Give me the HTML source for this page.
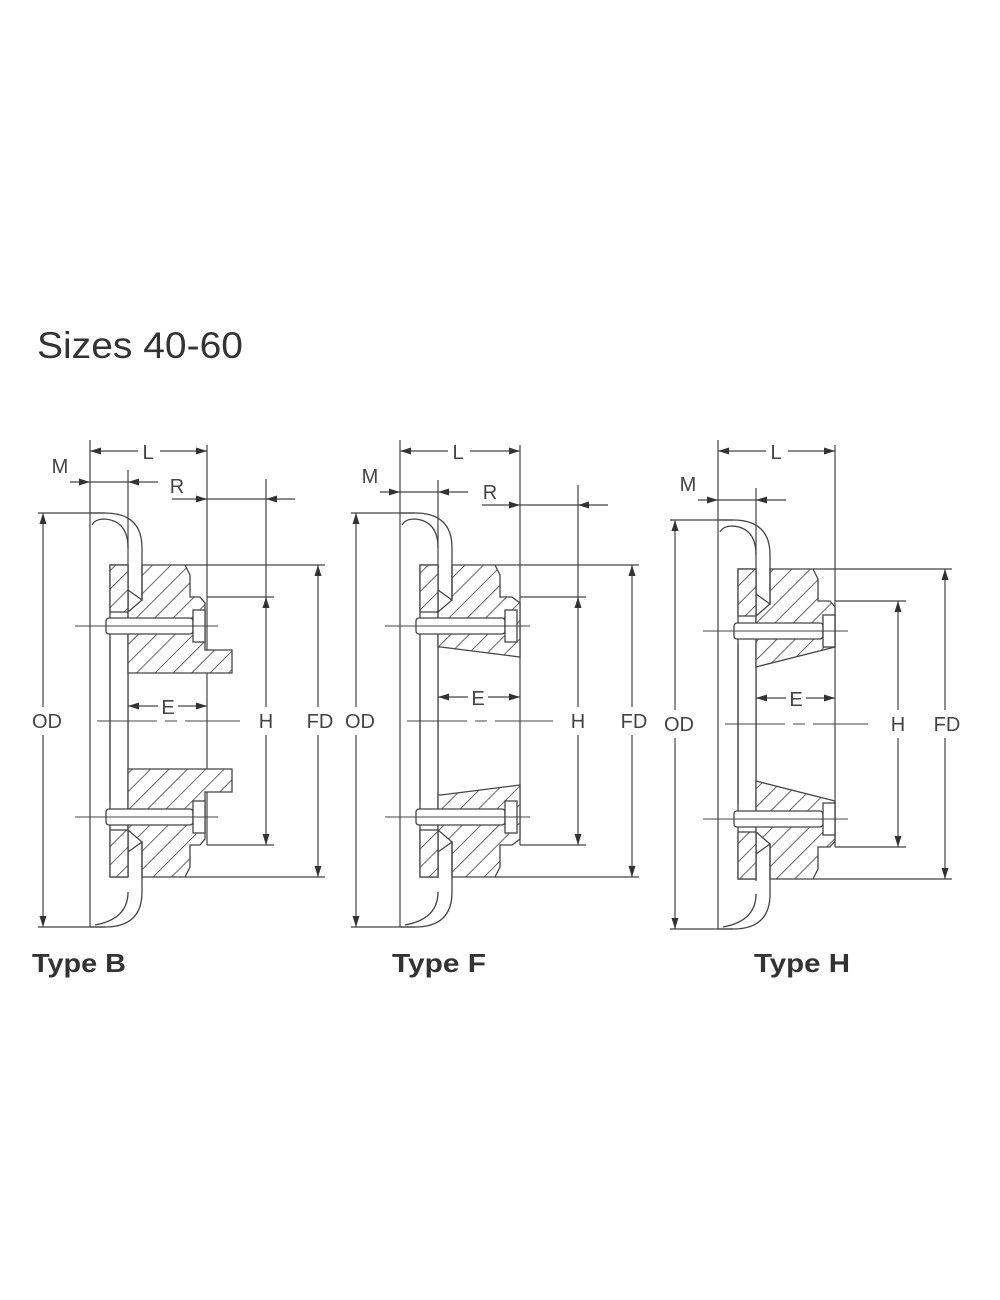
<!DOCTYPE html>
<html><head><meta charset="utf-8">
<style>
html,body{margin:0;padding:0;background:#fff;}
svg{display:block;}
text{font-family:"Liberation Sans",sans-serif;}
</style></head>
<body>
<svg id="s" width="1000" height="1300" viewBox="0 0 1000 1300" xmlns="http://www.w3.org/2000/svg">
<defs>
<pattern id="h" patternUnits="userSpaceOnUse" width="13" height="13" patternTransform="rotate(45)">
<rect width="13" height="13" fill="#fff"/>
<line x1="0" y1="0" x2="0" y2="13" stroke="#333" stroke-width="1.5"/>
</pattern>
</defs>
<text x="37" y="358" font-size="37" fill="#333" textLength="206" lengthAdjust="spacingAndGlyphs">Sizes 40-60</text>
<text x="32" y="972" font-size="26" font-weight="bold" fill="#333" textLength="94" lengthAdjust="spacingAndGlyphs">Type B</text>
<text x="392" y="972" font-size="26" font-weight="bold" fill="#333" textLength="94" lengthAdjust="spacingAndGlyphs">Type F</text>
<text x="754" y="972" font-size="26" font-weight="bold" fill="#333" textLength="96" lengthAdjust="spacingAndGlyphs">Type H</text>
<g id="g"></g>
</svg>
<script>
var out='';
var S='stroke="#444" stroke-width="1.3" fill="none"';
function L(x1,y1,x2,y2,w,c,d){out+='<line x1="'+x1+'" y1="'+y1+'" x2="'+x2+'" y2="'+y2+'" stroke="'+(c||'#444')+'" stroke-width="'+(w||1.2)+'"'+(d?' stroke-dasharray="'+d+'"':'')+'/>';}
function A(x,y,dir){var s=11,w=3.5,p;
 if(dir=='r')p=[x,y,x-s,y-w,x-s,y+w];
 if(dir=='l')p=[x,y,x+s,y-w,x+s,y+w];
 if(dir=='u')p=[x,y,x-w,y+s,x+w,y+s];
 if(dir=='d')p=[x,y,x-w,y-s,x+w,y-s];
 out+='<polygon points="'+p.join(',')+'" fill="#333"/>';}
function T(x,y,t,sz){out+='<text x="'+x+'" y="'+y+'" font-size="'+(sz||20)+'" fill="#444" text-anchor="middle">'+t+'</text>';}
function P(pts,fill){out+='<polygon points="'+pts.map(function(p){return p.join(',')}).join(' ')+'" fill="'+fill+'" stroke="#444" stroke-width="1.3"/>';}

function draw(o){
 var x0=o.x0, xi=x0+38, xr=o.xr, cy=o.cy, dy=o.dy;
 function Y(y){return y+dy;}
 function M(y){return 2*cy-y;}
 L(x0,440,x0,o.odBot);
 L(xr,445,xr,cy-8);
 L(xr,cy-8,xr,M(Y(597)));
 L(x0,451,xr,451); A(x0,451,'l'); A(xr,451,'r');
 out+='<rect x="'+(x0+48)+'" y="440" width="22" height="20" fill="#fff"/>';
 T(x0+58,459,'L');
 L(x0-20,o.my,xi+30,o.my); A(x0,o.my,'r'); A(xi,o.my,'l');
 L(xi,o.my-12,xi,Y(877));
 T(x0-30,o.my-9,'M');
 if(o.r){L(o.r.x1,o.r.y,o.r.x2,o.r.y); A(xr,o.r.y,'r'); A(o.hx,o.r.y,'l'); T(xr-30,o.r.y-6,'R');}
 L(o.odx-5,o.odTop,x0+15,o.odTop); L(o.odx-5,o.odBot,x0+15,o.odBot);
 L(o.odx,o.odTop,o.odx,o.odBot); A(o.odx,o.odTop,'u'); A(o.odx,o.odBot,'d');
 out+='<rect x="'+(o.odx-16)+'" y="'+(cy-14)+'" width="32" height="28" fill="#fff"/>';
 T(o.odx+4,cy+7,'OD');
 var rt=o.odTop, rb=o.odBot;
 out+='<path d="M'+x0+','+rt+' L'+(x0+15)+','+rt+' Q'+(x0+52)+','+rt+' '+(x0+52)+','+(rt+35)+' L'+(x0+52)+','+Y(565)+'" '+S+'/>';
 out+='<path d="M'+(x0+2)+','+(rt+12)+' Q'+(x0+5)+','+(rt+6)+' '+(x0+15)+','+(rt+6)+' Q'+(x0+38)+','+(rt+8)+' '+(x0+38)+','+(rt+35)+'" '+S+'/>';
 out+='<path d="M'+x0+','+rb+' L'+(x0+15)+','+rb+' Q'+(x0+52)+','+rb+' '+(x0+52)+','+(rb-35)+' L'+(x0+52)+','+M(Y(565))+'" '+S+'/>';
 out+='<path d="M'+(x0+5)+','+(rb-2)+' Q'+(x0+38)+','+(rb-8)+' '+(x0+38)+','+(rb-35)+'" '+S+'/>';
 var pt=Y(565), pb=M(Y(565));
 out+='<rect x="'+(x0+20)+'" y="'+pt+'" width="18" height="'+(pb-pt)+'" fill="#fff" stroke="#444" stroke-width="1.3"/>';
 out+='<rect x="'+(x0+20)+'" y="'+pt+'" width="18" height="'+(Y(612)-pt)+'" fill="url(#h)" stroke="#444" stroke-width="1.3"/>';
 out+='<rect x="'+(x0+20)+'" y="'+M(Y(612))+'" width="18" height="'+(Y(612)-pt)+'" fill="url(#h)" stroke="#444" stroke-width="1.3"/>';
 L(x0+20,Y(640),x0+20,M(Y(640)));
 var hub=o.hub.map(function(p){return [x0+p[0],Y(p[1])];});
 P(hub,'url(#h)');
 var hub2=(o.hub2||o.hub).map(function(p){return [x0+p[0],M(Y(p[1]))];});
 P(hub2,'url(#h)');
 out+='<path d="M'+(x0+38)+','+Y(590)+' L'+(x0+52)+','+Y(600)+' L'+(x0+52)+','+Y(565)+'" '+S+'/>';
 out+='<path d="M'+(x0+38)+','+M(Y(590))+' L'+(x0+52)+','+M(Y(600))+' L'+(x0+52)+','+M(Y(565))+'" '+S+'/>';
 [o.b1,o.b2].forEach(function(by){
  out+='<rect x="'+(x0+16)+'" y="'+(by-8)+'" width="'+(o.hd-16)+'" height="16" rx="3" fill="#fff" stroke="#444" stroke-width="1.3"/>';
  out+='<rect x="'+(x0+o.hd)+'" y="'+(by-16)+'" width="12" height="32" fill="#fff" stroke="#444" stroke-width="1.3"/>';
  L(x0-15,by,x0+o.hd+25,by,1);
  L(x0+22,by,x0+o.hd-2,by,1,'#444','12,6');
 });
 L(x0+7,cy,xr+33,cy,1.1,'#444','60,8,12,8');
 L(xi,o.ey,xr,o.ey); A(xi,o.ey,'l'); A(xr,o.ey,'r');
 out+='<rect x="'+(xi+30)+'" y="'+(o.ey-12)+'" width="20" height="22" fill="#fff"/>';
 T(xi+40,o.ey+8,'E');
 var ht=Y(597), hb=M(Y(597));
 L(xr,ht,o.hx+8,ht); L(xr,hb,o.hx+8,hb);
 L(o.hx,o.r?o.r.y-20:ht,o.hx,hb); A(o.hx,ht,'u'); A(o.hx,hb,'d');
 out+='<rect x="'+(o.hx-10)+'" y="'+(cy-14)+'" width="20" height="28" fill="#fff"/>';
 T(o.hx,cy+7,'H');
 L(x0+95,pt,o.fdx+7,pt); L(x0+95,pb,o.fdx+7,pb);
 L(o.fdx,pt,o.fdx,pb); A(o.fdx,pt,'u'); A(o.fdx,pb,'d');
 out+='<rect x="'+(o.fdx-14)+'" y="'+(cy-14)+'" width="28" height="28" fill="#fff"/>';
 T(o.fdx+2,cy+7,'FD');
}
draw({x0:90,xr:207,cy:721,dy:0,my:482,odx:43,odTop:513,odBot:927,fdx:318,hx:266,b1:626,b2:817,ey:706,hd:103,
 r:{x1:172,x2:295,y:499},
 hub:[[52,565],[95,565],[100,575],[100,597],[110,597],[115,603],[115,650],[142,650],[142,673],[38,673],[38,612],[52,600]]});
draw({x0:400,xr:520,cy:721,dy:0,my:492,odx:356,odTop:513,odBot:927,fdx:632,hx:578,b1:626,b2:817,ey:697,hd:105,
 r:{x1:482,x2:608,y:505},
 hub:[[52,565],[95,565],[100,575],[100,597],[112,597],[120,603],[120,657],[41,647],[38,647],[38,612],[52,600]]});
draw({x0:718,xr:835,cy:724,dy:4,my:500,odx:675,odTop:520,odBot:929,fdx:945,hx:898,b1:631,b2:819,ey:698,hd:105,
 hub:[[52,565],[95,565],[100,575],[100,597],[112,597],[117,603],[117,643],[38,663],[38,612],[52,600]]});
document.getElementById('g').innerHTML=out;
</script>
</body></html>
